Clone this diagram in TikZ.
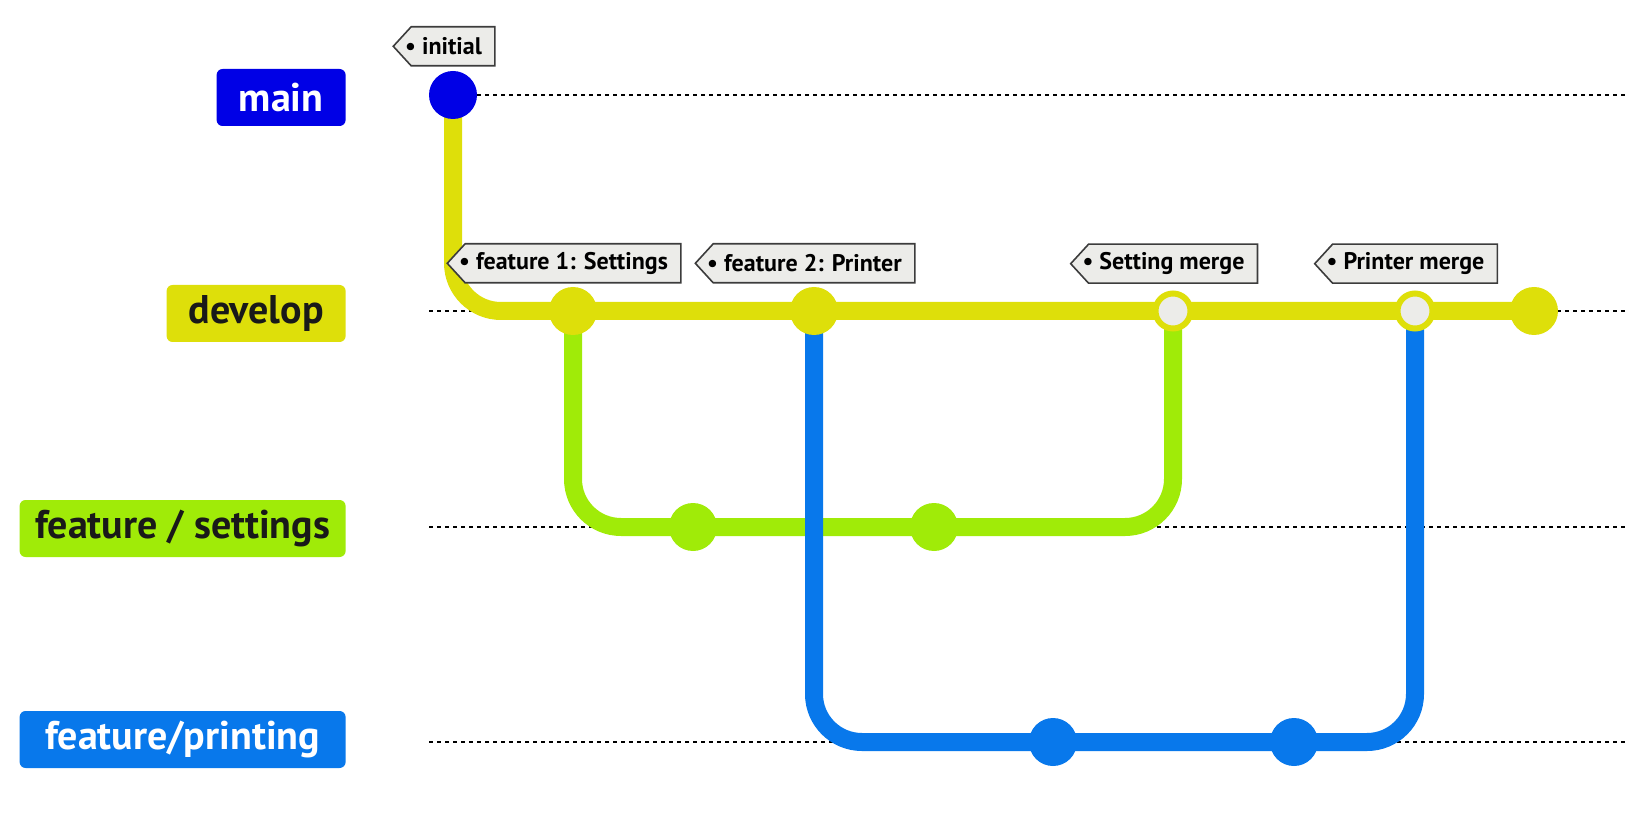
\documentclass[tikz,border=0pt]{standalone}
\usepackage{fontspec}
\setmainfont{PT Sans}
\usetikzlibrary{positioning, shapes.symbols, backgrounds}

\definecolor{mainblue}{RGB}{0,0,230}
\definecolor{devyellow}{RGB}{222,223,10}
\definecolor{setgreen}{RGB}{160,235,8}
\definecolor{printblue}{RGB}{8,120,235}
\definecolor{tagfill}{RGB}{236,236,233}
\definecolor{tagline}{RGB}{60,60,60}

\begin{document}
\begin{tikzpicture}[x=0.5pt, y=-0.5pt,
    lanelabel/.style = {shape=rectangle, rounded corners=3pt, anchor=east,
      minimum height=28.5pt, inner xsep=0pt,
      font=\fontsize{20}{24}\selectfont\bfseries},
    commit/.style = {circle, minimum size=24pt, inner sep=0pt, fill=#1},
    merge/.style = {circle, minimum size=17.5pt, inner sep=0pt,
      draw=devyellow, line width=3pt, fill=tagfill},
    tag/.style = {signal, signal to=west, signal pointer angle=95,
      draw=tagline, fill=tagfill, line width=0.8pt,
      minimum height=19.5pt, inner xsep=6.5pt, inner ysep=0pt,
      font=\fontsize{12}{14}\selectfont\bfseries},
    lane/.style = {draw, dash pattern=on 2pt off 2pt, line width=0.6pt},
    branch/.style = {line width=9pt, rounded corners=24pt}]

  \useasboundingbox (0,0) rectangle (1650,818);

  % branch names
  \node[lanelabel, fill=mainblue, text=white, minimum width=64.5pt] (lmain) at (346,97.5) {main};
  \node[lanelabel, fill=devyellow, text=black!90, minimum width=89.5pt] (ldev) at (346,313.5) {develop};
  \node[lanelabel, fill=setgreen, text=black!90, minimum width=163pt] (lset) at (346,528.5) {feature / settings};
  \node[lanelabel, fill=printblue, text=white, minimum width=163pt] (lprt) at (346,739.5) {feature/printing};

  % commits
  \node[commit=mainblue] (m0) at (453,95) {};
  \node[commit=devyellow] (d1) at (573,311) {};
  \node[commit=devyellow] (d2) at (814,311) {};
  \node[merge] (d3) at (1173,311) {};
  \node[merge] (d4) at (1415,311) {};
  \node[commit=devyellow] (d5) at (1534,311) {};
  \node[commit=setgreen] (s1) at (693,527) {};
  \node[commit=setgreen] (s2) at (934,527) {};
  \node[commit=printblue] (p1) at (1053,742) {};
  \node[commit=printblue] (p2) at (1294,742) {};

  % tags
  \node[tag, above=2pt of m0] (tinit) {\hspace{-9.5pt}\textbullet\ initial};
  \node[tag, above=1.5pt of d1] (tset) {\hspace{-9.5pt}\textbullet\ feature 1: Settings};
  \node[tag, above=1.5pt of d2] (tprt) {\hspace{-9.5pt}\textbullet\ feature 2: Printer};
  \node[tag, above=3.25pt of d3] (tmset) {\hspace{-9.5pt}\textbullet\ Setting merge};
  \node[tag, above=3.25pt of d4] (tmprt) {\hspace{-9.5pt}\textbullet\ Printer merge};

  \begin{scope}[on background layer]
    \foreach \n/\y in {main/95, dev/311, set/527, prt/742} {
      \coordinate (lane-\n-w) at (429,\y);
      \coordinate (lane-\n-e) at (1626,\y);
      \draw[lane] (lane-\n-w) -- (lane-\n-e);
    }
    \draw[branch, setgreen] (d1.center) |- (s1.center) -- (s2.center) -| (d3.center);
    \draw[branch, printblue] (d2.center) |- (p1.center) -- (p2.center) -| (d4.center);
    \draw[branch, devyellow] (m0.center) |- (d5.center);
  \end{scope}
\end{tikzpicture}
\end{document}
